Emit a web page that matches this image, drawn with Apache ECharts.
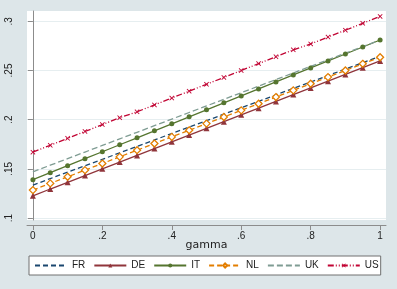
<!DOCTYPE html>
<html>
<head>
<meta charset="utf-8">
<script src="https://cdn.jsdelivr.net/npm/echarts@6/dist/echarts.min.js"></script>
<style>
html, body { margin: 0; padding: 0; background: #dde6e9; }
#chart { width: 397px; height: 289px; }
</style>
</head>
<body>
<div id="chart"></div>
<script>
// gamma grid, 0 to 1 by .05
var gamma = [0, 0.05, 0.1, 0.15, 0.2, 0.25, 0.3, 0.35, 0.4, 0.45, 0.5,
    0.55, 0.6, 0.65, 0.7, 0.75, 0.8, 0.85, 0.9, 0.95, 1];

var fr = [0.1335, 0.1401, 0.1466, 0.1532, 0.1597, 0.1663, 0.1728, 0.1794, 0.1859, 0.1925, 0.199,
    0.2056, 0.2121, 0.2187, 0.2252, 0.2318, 0.2383, 0.2449, 0.2514, 0.258, 0.2645];
var de = [0.1226, 0.1295, 0.1363, 0.1432, 0.15, 0.1569, 0.1637, 0.1706, 0.1775, 0.1843, 0.1912,
    0.198, 0.2049, 0.2117, 0.2186, 0.2255, 0.2323, 0.2392, 0.246, 0.2529, 0.2597];
var it = [0.139, 0.1461, 0.1532, 0.1603, 0.1674, 0.1745, 0.1816, 0.1887, 0.1958, 0.2029, 0.21,
    0.2171, 0.2242, 0.2313, 0.2384, 0.2455, 0.2526, 0.2597, 0.2668, 0.2739, 0.281];
var nl = [0.1284, 0.1352, 0.1419, 0.1487, 0.1554, 0.1622, 0.169, 0.1757, 0.1825, 0.1892, 0.196,
    0.2027, 0.2095, 0.2162, 0.223, 0.2298, 0.2365, 0.2433, 0.25, 0.2568, 0.2635];
var uk = [0.147, 0.1537, 0.1604, 0.1671, 0.1738, 0.1805, 0.1872, 0.1939, 0.2006, 0.2073, 0.214,
    0.2207, 0.2274, 0.2341, 0.2408, 0.2475, 0.2542, 0.2609, 0.2676, 0.2743, 0.281];
var us = [0.167, 0.174, 0.181, 0.188, 0.195, 0.202, 0.208, 0.215, 0.222, 0.229, 0.236,
    0.243, 0.25, 0.257, 0.264, 0.271, 0.277, 0.284, 0.291, 0.298, 0.305];

var xTicks = [0, 0.2, 0.4, 0.6, 0.8, 1];
var yTicks = [0.1, 0.15, 0.2, 0.25, 0.3];

function pairs(ys) {
    return gamma.map(function (g, i) { return [g, ys[i]]; });
}
// stata style labels: .2 instead of 0.2
function stataNum(v) {
    return String(v).replace(/^0\./, '.');
}

var xSymbol = 'path://M0,1L1,0L4,3L7,0L8,1L5,4L8,7L7,8L4,5L1,8L0,7L3,4Z';
var font = 'Liberation Sans';

var option = {
    animation: false,
    backgroundColor: '#dde6e9',
    textStyle: { fontFamily: font },
    grid: {
        left: 27, right: 11, top: 11, bottom: 69,
        show: true, backgroundColor: '#ffffff', borderWidth: 0
    },
    xAxis: {
        type: 'value',
        min: -0.017, max: 1.017,
        offset: 5,
        name: 'gamma',
        nameLocation: 'middle',
        nameGap: 15,
        nameMoveOverlap: false,
        nameTextStyle: { fontSize: 11, color: '#222', fontFamily: 'DejaVu Sans' },
        axisLine: { lineStyle: { color: '#8c8c8c', width: 1 } },
        axisTick: { show: true, length: 5, customValues: xTicks, lineStyle: { color: '#8c8c8c' } },
        axisLabel: { customValues: xTicks, fontSize: 10, color: '#222', margin: 6, formatter: stataNum },
        splitLine: { show: false }
    },
    yAxis: {
        type: 'value',
        min: 0.098, max: 0.3105,
        axisLine: { show: true, lineStyle: { color: '#8c8c8c', width: 1 } },
        axisTick: { show: true, length: 5, customValues: yTicks, lineStyle: { color: '#8c8c8c' } },
        axisLabel: { customValues: yTicks, fontSize: 10, color: '#222', rotate: 90, margin: 13, formatter: stataNum },
        splitLine: { show: true, lineStyle: { color: '#e6eef0', width: 1 } }
    },
    legend: {
        left: 29, top: 256,
        orient: 'horizontal',
        itemWidth: 32, itemHeight: 5, itemGap: 8,
        padding: [3, 2, 3, 5],
        backgroundColor: '#ffffff',
        borderColor: '#707070', borderWidth: 1,
        textStyle: { fontSize: 10, color: '#222', fontFamily: font, lineHeight: 13 },
        data: [
            { name: 'FR', itemStyle: { opacity: 0 } },
            'DE', 'IT', 'NL',
            { name: 'UK', itemStyle: { opacity: 0 } },
            'US'
        ]
    },
    series: [
        {
            name: 'FR', type: 'line', data: pairs(fr), symbol: 'none',
            lineStyle: { color: '#1a476f', width: 1.3, type: [5, 3] },
            itemStyle: { color: '#1a476f' }
        },
        {
            name: 'DE', type: 'line', data: pairs(de), symbol: 'triangle', symbolSize: 6,
            lineStyle: { color: '#90353b', width: 1.3 },
            itemStyle: { color: '#90353b' }
        },
        {
            name: 'IT', type: 'line', data: pairs(it), symbol: 'circle', symbolSize: 5,
            lineStyle: { color: '#55752f', width: 1.3 },
            itemStyle: { color: '#55752f' }
        },
        {
            name: 'NL', type: 'line', data: pairs(nl), symbol: 'diamond', symbolSize: 7,
            lineStyle: { color: '#e37e00', width: 1.3, type: [5, 3] },
            itemStyle: { color: '#ffffff', borderColor: '#e37e00', borderWidth: 1.3 }
        },
        {
            name: 'UK', type: 'line', data: pairs(uk), symbol: 'none',
            lineStyle: { color: '#7f9c93', width: 1.3, type: [6, 3] },
            itemStyle: { color: '#7f9c93' }
        },
        {
            name: 'US', type: 'line', data: pairs(us), symbol: xSymbol, symbolSize: 5,
            lineStyle: { color: '#c10534', width: 1.3, type: [6, 2, 1, 2, 1, 2] },
            itemStyle: { color: '#c10534' }
        }
    ]
};

var chart = echarts.init(document.getElementById('chart'), null, { renderer: 'canvas' });
chart.setOption(option);
</script>
</body>
</html>
